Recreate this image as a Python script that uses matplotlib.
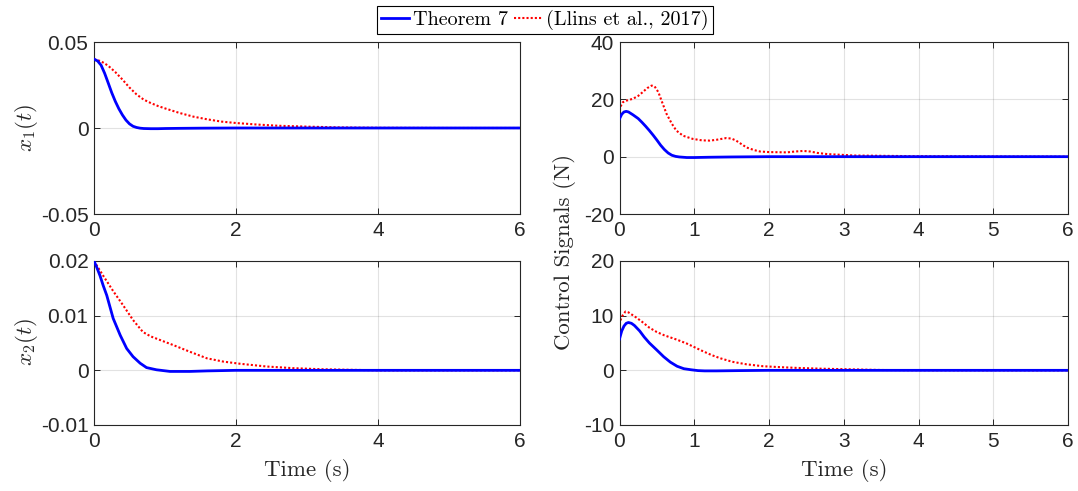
import matplotlib
matplotlib.use("Agg")
import matplotlib.pyplot as plt

plt.rcParams['font.family'] = ['Liberation Sans', 'DejaVu Sans']
plt.rcParams['mathtext.fontset'] = 'cm'
plt.rcParams['axes.unicode_minus'] = False

###############
# data
# x1(t)
t_x1_new = [0, 0.05, 0.1, 0.15, 0.2, 0.25, 0.3, 0.35, 0.4, 0.45, 0.5, 0.55, 0.6, 0.65, 0.7,
            0.8, 0.9, 1.0, 1.2, 1.5, 2.0, 3.0, 4.0, 5.0, 6.0]
x1_new = [0.0400, 0.0390, 0.0365, 0.0318, 0.0262, 0.0205, 0.0155, 0.0112, 0.0076, 0.0046,
          0.0024, 0.0010, 0.0003, -0.0001, -0.0003, -0.0004, -0.0004, -0.0003, -0.0002,
          -0.0001, 0.0, 0.0, 0.0, 0.0, 0.0]
t_x1_old = [0, 0.1, 0.2, 0.3, 0.4, 0.5, 0.6, 0.7, 0.8, 0.9, 1.0, 1.2, 1.4, 1.6, 1.8, 2.0,
            2.3, 2.6, 3.0, 3.5, 4.0, 5.0, 6.0]
x1_old = [0.0400, 0.0388, 0.0362, 0.0325, 0.0282, 0.0235, 0.0195, 0.0165, 0.0145, 0.0128,
          0.0114, 0.0088, 0.0066, 0.0050, 0.0037, 0.0029, 0.0020, 0.0013, 0.0008, 0.0003,
          0.0001, 0.0, 0.0]

# x2(t)
t_x2_new = [0, 0.04, 0.085, 0.13, 0.18, 0.27, 0.37, 0.46, 0.55, 0.65, 0.74, 0.88, 1.07,
            1.35, 1.6, 2.0, 6.0]
x2_new = [0.0200, 0.0188, 0.0173, 0.0155, 0.0137, 0.0095, 0.0064, 0.0040, 0.0025, 0.0013,
          0.0005, 0.0001, -0.0002, -0.0002, -0.0001, 0.0, 0.0]
t_x2_old = [0, 0.13, 0.27, 0.41, 0.55, 0.69, 0.8, 0.88, 1.0, 1.12, 1.35, 1.59, 1.82, 2.06,
            2.43, 2.8, 3.2, 3.6, 4.0, 6.0]
x2_old = [0.0200, 0.0173, 0.0145, 0.0119, 0.0092, 0.0070, 0.0062, 0.0058, 0.0052, 0.0046,
          0.0034, 0.0022, 0.0016, 0.0012, 0.0007, 0.0004, 0.0002, 0.0001, 0.0, 0.0]

# control signal 1
t_u1_new = [0, 0.03, 0.06, 0.09, 0.12, 0.18, 0.25, 0.3, 0.35, 0.4, 0.45, 0.5, 0.55, 0.6,
            0.65, 0.7, 0.75, 0.8, 0.9, 1.0, 1.2, 1.5, 2.0, 6.0]
u1_new = [13.2, 14.8, 15.6, 15.8, 15.6, 14.6, 13.3, 12.0, 10.6, 9.1, 7.5, 5.8, 4.0, 2.5,
          1.3, 0.5, 0.1, -0.1, -0.3, -0.3, -0.2, -0.1, 0.0, 0.0]
t_u1_old = [0, 0.02, 0.045, 0.1, 0.18, 0.25, 0.31, 0.37, 0.43, 0.47, 0.52, 0.57, 0.63, 0.7,
            0.76, 0.85, 0.98, 1.1, 1.21, 1.3, 1.43, 1.5, 1.56, 1.63, 1.7, 1.8, 1.88, 2.0,
            2.24, 2.35, 2.46, 2.55, 2.65, 2.78, 3.0, 3.14, 3.5, 4.0, 5.0, 6.0]
u1_old = [16.1, 17.8, 19.0, 19.6, 20.2, 21.2, 22.5, 23.9, 24.8, 24.5, 22.5, 19.0, 14.9,
          11.5, 9.1, 7.3, 6.2, 5.7, 5.6, 5.9, 6.5, 6.3, 5.6, 4.4, 3.2, 2.3, 1.8, 1.6,
          1.5, 1.8, 2.0, 1.8, 1.3, 0.9, 0.6, 0.4, 0.3, 0.15, 0.05, 0.0]

# control signal 2
t_u2_new = [0, 0.03, 0.06, 0.09, 0.12, 0.16, 0.2, 0.27, 0.33, 0.4, 0.5, 0.59, 0.68, 0.77,
            0.86, 0.96, 1.05, 1.14, 1.3, 1.6, 2.0, 6.0]
u2_new = [5.75, 7.2, 8.1, 8.6, 8.75, 8.6, 8.2, 7.2, 6.1, 5.0, 3.7, 2.5, 1.5, 0.75, 0.3,
          0.1, -0.05, -0.1, -0.1, -0.05, 0.0, 0.0]
t_u2_old = [0, 0.02, 0.04, 0.08, 0.12, 0.22, 0.3, 0.4, 0.5, 0.6, 0.77, 0.9, 1.0, 1.1, 1.23,
            1.35, 1.51, 1.7, 1.92, 2.15, 2.38, 2.7, 3.07, 3.5, 4.0, 6.0]
u2_old = [8.4, 9.4, 10.0, 10.75, 10.6, 9.7, 8.9, 7.8, 7.0, 6.4, 5.6, 4.9, 4.25, 3.6, 2.8,
          2.2, 1.56, 1.1, 0.75, 0.58, 0.44, 0.3, 0.19, 0.06, 0.02, 0.0]

labels = ['Theorem 7', '(Llins et al., 2017)']

yt_x1 = [-0.05, 0, 0.05]
yt_x1_lab = ['-0.05', '0', '0.05']
yt_x2 = [-0.01, 0, 0.01, 0.02]
yt_x2_lab = ['-0.01', '0', '0.01', '0.02']
yt_u1 = [-20, 0, 20, 40]
yt_u2 = [-10, 0, 10, 20]

###############
W, H = 1078, 491
fig = plt.figure(figsize=(W / 100, H / 100), dpi=100)

def box(l, t, r, b):
    # pixel box -> figure fraction
    return [l / W, 1 - b / H, (r - l) / W, (b - t) / H]

ax1 = fig.add_axes(box(94, 42, 520, 214))
ax2 = fig.add_axes(box(619.5, 42, 1068, 214))
ax3 = fig.add_axes(box(94, 261, 520, 425))
ax4 = fig.add_axes(box(619.5, 261, 1068, 425))

axcol = (0.15, 0.15, 0.15)
serif = ['cmr10', 'DejaVu Serif']

def style(ax, xt, yt, ylab=None):
    ax.set_xlim(0, 6)
    ax.set_xticks(xt)
    ax.set_xticklabels([str(v) for v in xt])
    ax.set_yticks(yt)
    if ylab is None:
        ylab = [str(v) for v in yt]
    ax.set_yticklabels(ylab)
    ax.set_ylim(yt[0], yt[-1])
    ax.grid(True, color=axcol, alpha=0.13, linewidth=0.8)
    ax.tick_params(direction='in', top=True, right=True, length=4, width=0.7,
                   labelsize=15, colors=axcol, pad=4)
    ax.tick_params(axis='x', pad=5)
    for s in ax.spines.values():
        s.set_color(axcol)
        s.set_linewidth(0.8)

def draw(ax, tn, yn, to, yo):
    l1, = ax.plot(tn, yn, color='#0000ff', lw=2.0, zorder=3)
    l2, = ax.plot(to, yo, color='#ff0000', lw=1.5, ls=(0, (1, 1)), zorder=2)
    return l1, l2

h = draw(ax1, t_x1_new, x1_new, t_x1_old, x1_old)
draw(ax2, t_u1_new, u1_new, t_u1_old, u1_old)
draw(ax3, t_x2_new, x2_new, t_x2_old, x2_old)
draw(ax4, t_u2_new, u2_new, t_u2_old, u2_old)

style(ax1, [0, 2, 4, 6], yt_x1, yt_x1_lab)
style(ax2, [0, 1, 2, 3, 4, 5, 6], yt_u1)
style(ax3, [0, 2, 4, 6], yt_x2, yt_x2_lab)
style(ax4, [0, 1, 2, 3, 4, 5, 6], yt_u2)

# axis labels (LaTeX look)
fig.text(27 / W, 1 - 128 / H, r'$x_1(t)$', rotation=90, ha='center', va='center',
         fontsize=16.5, color=axcol)
fig.text(27 / W, 1 - 342 / H, r'$x_2(t)$', rotation=90, ha='center', va='center',
         fontsize=16.5, color=axcol)
fig.text(565 / W, 1 - 252 / H, 'Control Signals (N)', rotation=90, family=serif,
         ha='center', va='center', fontsize=16.5, color=axcol)
fig.text(307 / W, 1 - 470 / H, 'Time (s)', family=serif, ha='center', va='center',
         fontsize=16.5, color=axcol)
fig.text(844 / W, 1 - 470 / H, 'Time (s)', family=serif, ha='center', va='center',
         fontsize=16.5, color=axcol)

leg = fig.legend(h, labels, loc='upper center', bbox_to_anchor=(545 / W, 1 - 6 / H),
                 ncol=2, prop={'family': serif, 'size': 14.5}, frameon=True,
                 fancybox=False, framealpha=1, edgecolor='black', handlelength=1.4,
                 handletextpad=0.2, columnspacing=0.3, borderpad=0.2, borderaxespad=0)
leg.get_frame().set_linewidth(0.8)

fig.savefig('out.png', dpi=100)
